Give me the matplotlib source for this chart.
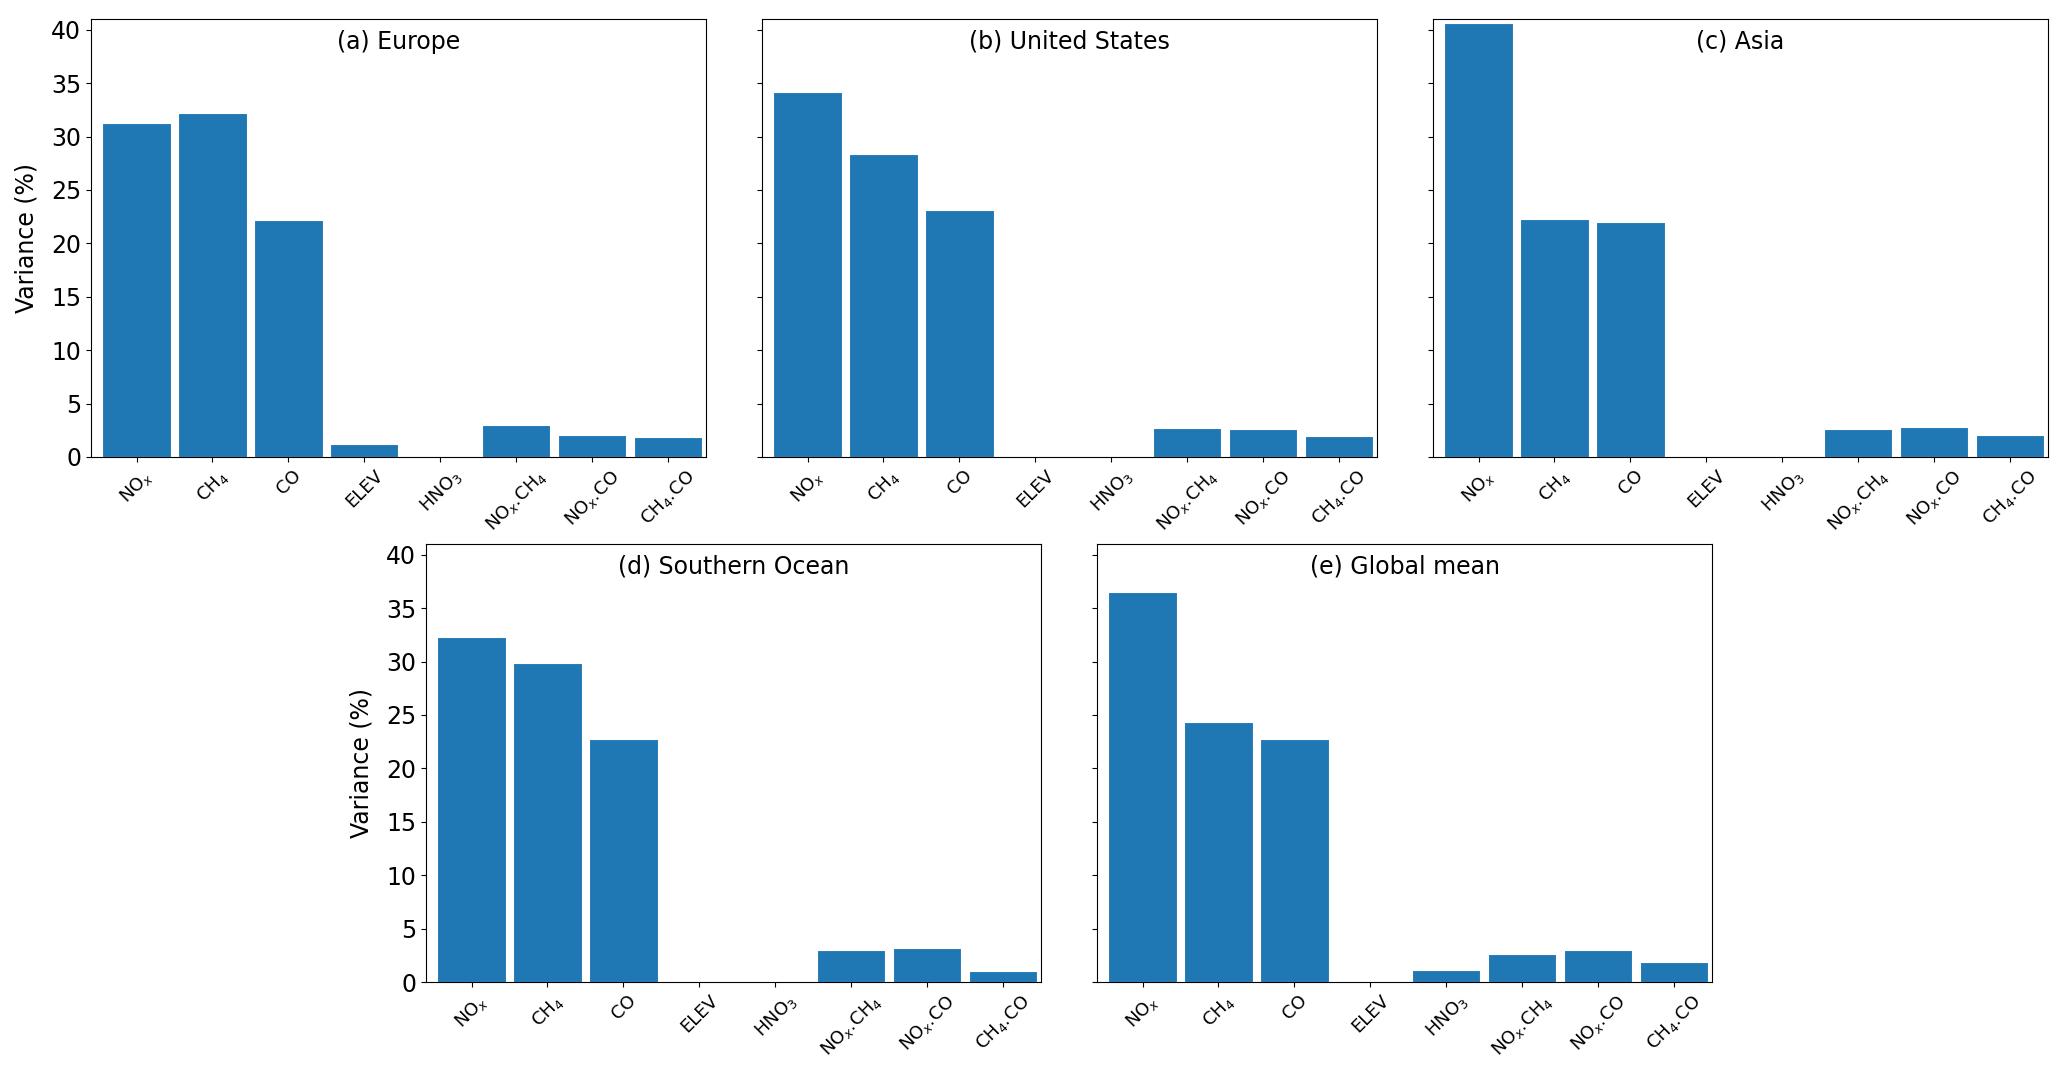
import matplotlib.pyplot as plt
import numpy as np

labels = ['NO$_x$', 'CH$_4$', 'CO', 'ELEV', 'HNO$_3$',
          'NO$_x$.CH$_4$', 'NO$_x$.CO', 'CH$_4$.CO']

titles = ['(a) Europe', '(b) United States', '(c) Asia',
          '(d) Southern Ocean', '(e) Global mean']

europe = [31.3, 32.2, 22.2, 1.2, 0.0, 3.0, 2.1, 1.85]
united_states = [34.2, 28.4, 23.1, 0.0, 0.0, 2.75, 2.6, 2.0]
asia = [40.6, 22.3, 22.0, 0.0, 0.0, 2.65, 2.85, 2.1]
southern_ocean = [32.3, 29.9, 22.7, 0.0, 0.0, 2.95, 3.2, 1.0]
global_mean = [36.5, 24.3, 22.7, 0.0, 1.1, 2.65, 2.95, 1.85]

data = [europe, united_states, asia, southern_ocean, global_mean]

fig = plt.figure(figsize=(20.67, 10.76), dpi=100)

W, H = 2067, 1076
pw, ph = 615, 438
# (left, top) in pixels for each panel
corners = [(91, 19), (762, 19), (1433, 19), (426, 544), (1097, 544)]

x = np.arange(len(labels))
for i, (vals, title) in enumerate(zip(data, titles)):
    l, t = corners[i]
    ax = fig.add_axes([l / W, 1 - (t + ph) / H, pw / W, ph / H])
    ax.bar(x, vals, width=0.9, color='#1f77b4', edgecolor='white', linewidth=0.8)
    ax.set_xlim(-0.6, 7.5)
    ax.set_ylim(0, 41)
    ax.set_yticks(np.arange(0, 41, 5))
    ax.set_xticks(x)
    ax.set_xticklabels(labels, rotation=45, fontsize=13)
    ax.tick_params(axis='y', labelsize=17)
    if i in (0, 3):
        ax.set_ylabel('Variance (%)', fontsize=17, labelpad=9)
    else:
        ax.set_yticklabels([])
    ax.text(0.5, 0.948, title, transform=ax.transAxes, ha='center', va='center', fontsize=17)

fig.savefig('out.png', dpi=100)
